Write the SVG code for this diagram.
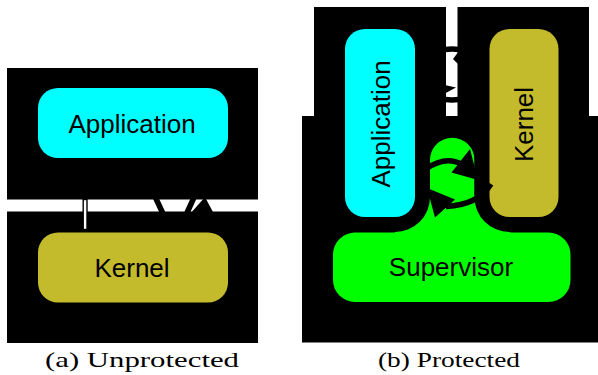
<svg xmlns="http://www.w3.org/2000/svg" width="598" height="375" viewBox="0 0 598 375">
<style>
.bg{fill:#000}
.app{fill:#00ffff}
.ker{fill:#c4bb2c}
.sup{fill:#00ff00}
.lbl{font-family:"Liberation Sans",Arial,sans-serif;font-size:26px;fill:#000;text-anchor:middle}
.cap{font-family:"Liberation Serif","Times New Roman",serif;font-size:22px;fill:#000}
.arc{fill:none;stroke:#000;stroke-width:5.5}
.head{fill:#000}
</style>
<rect width="598" height="375" fill="#fff"/>
<!-- (a) Unprotected -->
<g id="panel-a">
  <rect class="bg" x="7" y="68" width="251" height="131.5"/>
  <rect class="bg" x="7" y="211.5" width="251" height="131.5"/>
</g>
<g id="connectors-a">
  <rect x="83.2" y="199.5" width="3.8" height="30" fill="#fff" stroke="#000" stroke-width="1.4"/>
  <path class="arc" d="M152,190 L165,218"/>
  <path class="arc" d="M196,193 L186,215"/>
  <polygon class="head" points="190,214 205,197 214,214"/>
</g>
<g id="a-application">
  <rect class="app" x="38" y="88" width="190" height="70" rx="20"/>
  <text class="lbl" x="132" y="132.5">Application</text>
</g>
<g id="a-kernel">
  <rect class="ker" x="38" y="232.5" width="190" height="70" rx="20"/>
  <text class="lbl" x="132" y="277.3">Kernel</text>
</g>
<text class="cap" x="45" y="367" textLength="194" lengthAdjust="spacingAndGlyphs">(a) Unprotected</text>

<!-- (b) Protected -->
<g id="panel-b">
  <rect class="bg" x="302" y="116" width="296" height="226.5"/>
  <rect class="bg" x="314" y="7" width="132" height="115"/>
  <rect class="bg" x="457.5" y="7" width="131.5" height="115"/>
</g>
<g id="connectors-b-top">
  <path class="arc" d="M425,58 Q452,40 479,58" stroke-width="4"/>
  <polygon class="head" points="453,59 462,47 466,72"/>
  <polygon class="head" points="456,87.5 440,84 442,95"/>
  <path class="arc" d="M425,92 Q452,108 479,92" stroke-width="4"/>
</g>
<g id="b-supervisor">
  <rect class="sup" x="333" y="232.5" width="237.5" height="69.5" rx="22"/>
  <rect class="sup" x="395" y="195" width="115" height="45"/>
  <path class="sup" d="M430,240 L430,160 A22.25,22.25 0 0 1 474.5,160 L474.5,240 Z"/>
  <rect class="bg" x="330" y="14" width="100" height="218" rx="35"/>
  <rect class="bg" x="474.5" y="14" width="99" height="218" rx="35"/>
  <text class="lbl" x="451" y="275.5">Supervisor</text>
</g>
<g id="b-application">
  <rect class="app" x="345" y="29" width="70" height="188" rx="20"/>
  <text class="lbl" transform="translate(389.5,124) rotate(-90)">Application</text>
</g>
<g id="b-kernel">
  <rect class="ker" x="489.5" y="29" width="69" height="188" rx="20"/>
  <text class="lbl" transform="translate(533,124.5) rotate(-90)">Kernel</text>
</g>
<g id="connectors-b">
  <path class="arc" d="M426,169 Q446,155 463,165"/>
  <polygon class="head" points="470,149 451.5,172.5 478,180"/>
  <path class="arc" d="M491,184 Q478,205 446,206.5"/>
  <polygon class="head" points="427,188 455,199.5 435,217.5"/>
</g>
<text class="cap" x="378" y="367" textLength="142" lengthAdjust="spacingAndGlyphs">(b) Protected</text>
</svg>
